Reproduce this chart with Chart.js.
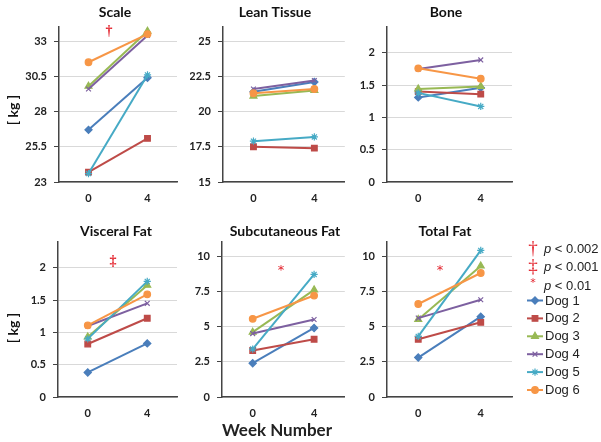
<!DOCTYPE html>
<html>
<head>
<title>Body composition, week 0 vs week 4</title>
<script src="https://cdn.jsdelivr.net/npm/chart.js"></script>
<style>
  body { margin: 0; background: #fff; }
  #wrap { position: relative; width: 601px; height: 442px; overflow: hidden; }
  #wrap canvas { position: absolute; }
</style>
</head>
<body>
<div id="wrap"></div>
<script>
  // Data: [week 0, week 4] per dog
  const weeks = ['0', '4'];
  const dogNames = ['Dog 1', 'Dog 2', 'Dog 3', 'Dog 4', 'Dog 5', 'Dog 6'];
  const scaleKg = [[26.7, 30.4], [23.7, 26.1], [29.8, 33.7], [29.6, 33.4], [23.6, 30.6], [31.5, 33.5]];
  const leanKg = [[21.4, 22.1], [17.5, 17.4], [21.1, 21.5], [21.6, 22.2], [17.9, 18.2], [21.3, 21.6]];
  const boneKg = [[1.31, 1.46], [1.40, 1.36], [1.44, 1.48], [1.75, 1.89], [1.38, 1.17], [1.76, 1.60]];
  const visceralKg = [[0.38, 0.83], [0.82, 1.22], [0.93, 1.73], [1.10, 1.45], [0.90, 1.79], [1.11, 1.59]];
  const subcutKg = [[2.4, 4.9], [3.3, 4.1], [4.6, 7.6], [4.5, 5.5], [3.4, 8.7], [5.55, 7.2]];
  const totalKg = [[2.8, 5.7], [4.1, 5.3], [5.5, 9.3], [5.6, 6.9], [4.3, 10.4], [6.6, 8.8]];

  const panelTitles = ['Scale', 'Lean Tissue', 'Bone', 'Visceral Fat', 'Subcutaneous Fat', 'Total Fat'];
  const panelData = [scaleKg, leanKg, boneKg, visceralKg, subcutKg, totalKg];
  const panelTicks = [
    [23, 25.5, 28, 30.5, 33],
    [15, 17.5, 20, 22.5, 25],
    [0, 0.5, 1, 1.5, 2],
    [0, 0.5, 1, 1.5, 2],
    [0, 2.5, 5, 7.5, 10],
    [0, 2.5, 5, 7.5, 10]
  ];
  const panelMin = [23, 15, 0, 0, 0, 0];
  const panelMax = [34, 26, 2.4, 2.4, 11, 11];
  const panelSig = ['†', '', '', '‡', '*', '*'];
  const sigSymbols = ['†', '‡', '*'];
  const sigLabels = ['< 0.002', '< 0.001', '< 0.01'];

  // styling
  const dogColors = ['#4a7ebb', '#be4b48', '#98b954', '#7d60a0', '#46aac5', '#f79646'];
  const dogMarkers = ['rectRot', 'rect', 'triangle', 'crossRot', 'star', 'circle'];
  const markerSize = [3.6, 4, 4, 3.4, 3.6, 3.3];
  const RED = '#e3212b';

  // layout (page px): canvas cells [x, y, w, h] and chart areas [l, t, r, b]
  const cells = [[0, 0, 190, 205], [190, 0, 160, 205], [350, 0, 251, 205],
                 [0, 205, 190, 237], [190, 205, 160, 237], [350, 205, 251, 237]];
  const areas = [[59, 27, 177, 182], [223, 27, 347, 182], [387, 27, 512, 182],
                 [58, 242, 177, 397], [222, 242, 347, 397], [387, 242, 512, 397]];
  const titleX = [115, 275, 446, 116, 285, 445];
  const sigPos = [[109, 31], null, null, [113, 261], [281, 271], [440, 271]];

  const wrap = document.getElementById('wrap');

  function drawMarker(ctx, d, x, y) {
    const opts = { pointStyle: dogMarkers[d], radius: markerSize[d], rotation: 0, borderWidth: 1.2 };
    ctx.fillStyle = dogColors[d];
    ctx.strokeStyle = dogColors[d];
    ctx.lineWidth = 1.2;
    Chart.helpers.drawPoint(ctx, opts, x, y);
  }

  function textPlugin(i) {
    const [cx, cy] = cells[i];
    return {
      id: 'panelText',
      afterDraw(chart) {
        const ctx = chart.ctx;
        ctx.save();
        ctx.translate(-cx, -cy);
        ctx.textAlign = 'center';
        ctx.textBaseline = 'middle';
        ctx.fillStyle = '#111';
        ctx.font = 'bold 14px Lato';
        ctx.fillText(panelTitles[i], titleX[i], i < 3 ? 12 : 231);

        if (i === 0 || i === 3) {
          ctx.save();
          ctx.translate(13, i === 0 ? 110 : 328);
          ctx.rotate(-Math.PI / 2);
          ctx.font = 'bold 14px Lato';
          ctx.fillText('[ kg ]', 0, 0);
          ctx.restore();
        }
        if (panelSig[i]) {
          ctx.fillStyle = RED;
          ctx.font = panelSig[i] === '*' ? '13px "DejaVu Sans"' : 'bold 14px "Liberation Serif"';
          ctx.fillText(panelSig[i], sigPos[i][0], sigPos[i][1]);
        }
        if (i === 4) {
          ctx.fillStyle = '#222';
          ctx.font = 'bold 17px Lato';
          ctx.fillText('Week Number', 277, 431);
        }
        if (i === 5) {
          // significance key
          const keyY = [249, 267, 286];
          sigSymbols.forEach((s, k) => {
            ctx.textAlign = 'center';
            ctx.fillStyle = RED;
            ctx.font = s === '*' ? '11px "DejaVu Sans"' : '19px "Liberation Serif"';
            ctx.fillText(s, 533, s === '*' ? 283 : keyY[k]);
            ctx.textAlign = 'left';
            ctx.fillStyle = '#222';
            ctx.font = 'italic 13px "Liberation Sans"';
            ctx.fillText('p', 544, keyY[k]);
            const w = ctx.measureText('p ').width;
            ctx.font = '13px "Liberation Sans"';
            ctx.fillText(sigLabels[k], 544 + w, keyY[k]);
          });
          // dog legend
          dogNames.forEach((name, d) => {
            const y = 300.5 + d * 17.9;
            ctx.strokeStyle = dogColors[d];
            ctx.lineWidth = 2;
            ctx.beginPath();
            ctx.moveTo(527, y);
            ctx.lineTo(543, y);
            ctx.stroke();
            drawMarker(ctx, d, 535, y);
            ctx.textAlign = 'left';
            ctx.fillStyle = '#222';
            ctx.font = '13px "Liberation Sans"';
            ctx.fillText(name, 545, y + 0.5);
          });
        }
        ctx.restore();
      }
    };
  }

  panelTitles.forEach((title, i) => {
    const [cx, cy, cw, ch] = cells[i];
    const [l, t, r, b] = areas[i];
    const canvas = document.createElement('canvas');
    canvas.width = cw;
    canvas.height = ch;
    canvas.style.left = cx + 'px';
    canvas.style.top = cy + 'px';
    wrap.appendChild(canvas);

    new Chart(canvas.getContext('2d'), {
      type: 'line',
      data: {
        labels: weeks,
        datasets: dogNames.map((name, d) => ({
          label: name,
          data: panelData[i][d],
          borderColor: dogColors[d],
          backgroundColor: dogColors[d],
          borderWidth: 2,
          pointStyle: dogMarkers[d],
          pointRadius: markerSize[d],
          pointBorderWidth: 1.2,
          pointBackgroundColor: dogColors[d],
          pointBorderColor: dogColors[d],
          tension: 0,
          clip: false,
          order: dogNames.length - d
        }))
      },
      options: {
        responsive: false,
        animation: false,
        events: [],
        layout: { padding: { left: 0, top: t - cy, right: cx + cw - r, bottom: 0 } },
        plugins: { legend: { display: false }, tooltip: { enabled: false } },
        scales: {
          x: {
            offset: true,
            grid: { drawOnChartArea: false, drawTicks: false },
            border: { display: true, color: '#444', width: 1.5 },
            ticks: { color: '#222', font: { family: 'Lato', weight: 'bold', size: 11 }, padding: 10 },
            afterFit: (scale) => { scale.height = cy + ch - b; }
          },
          y: {
            min: panelMin[i],
            max: panelMax[i],
            afterBuildTicks: (scale) => { scale.ticks = panelTicks[i].map(v => ({ value: v })); },
            grid: { color: '#d9d9d9', lineWidth: 1, drawTicks: true, tickLength: 5, tickColor: '#444' },
            border: { display: true, color: '#444', width: 1.5 },
            ticks: {
              color: '#222',
              font: { family: 'Lato', weight: 'bold', size: 11 },
              padding: 7,
              callback: (v) => String(v)
            },
            afterFit: (scale) => { scale.width = l - cx; }
          }
        }
      },
      plugins: [textPlugin(i)]
    });
  });
</script>
</body>
</html>
